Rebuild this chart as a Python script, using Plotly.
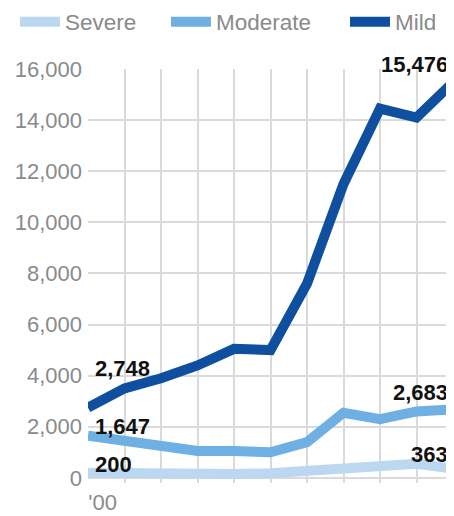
import plotly.graph_objects as go

years = list(range(2000, 2011))
severe = [200, 170, 130, 120, 150, 180, 250, 330, 420, 550, 363]
moderate = [1647, 1450, 1250, 1050, 1050, 1000, 1400, 2550, 2300, 2600, 2683]
mild = [2748, 3500, 3900, 4400, 5050, 5000, 7600, 11500, 14450, 14100, 15476]

series_names = ["Severe", "Moderate", "Mild"]
series_values = [severe, moderate, mild]
colors = ["#bcd8f1", "#6eafe4", "#0f4f9f"]

y_ticks = [0, 2000, 4000, 6000, 8000, 10000, 12000, 14000, 16000]
y_ticktext = ["0", "2,000", "4,000", "6,000", "8,000", "10,000", "12,000", "14,000", "16,000"]
x_ticktext = ["'00", "'10"]

W, H = 446, 508  # page body has an 8px margin in the browser window

fig = go.Figure()
legend_ids = ["legend", "legend2", "legend3"]
for name, vals, c, lg in zip(series_names, series_values, colors, legend_ids):
    fig.add_trace(go.Scatter(x=years, y=vals, name=name, mode="lines",
                             line=dict(color=c, width=10), legend=lg))

def fmt(v):
    return f"{v:,}"

ann_font = dict(family="Liberation Sans, Arial", size=22, color="#111111")
# start labels: severe, moderate, mild
for vals, up in zip(series_values, [8, 9, 39]):
    fig.add_annotation(x=years[0], y=vals[0], text="<b>" + fmt(vals[0]) + "</b>",
                       showarrow=False, xanchor="left", yanchor="middle",
                       xshift=5, yshift=up, font=ann_font)
# end labels: severe, moderate, mild
for vals, up in zip(series_values, [14, 17, 18]):
    fig.add_annotation(x=years[-1], y=vals[-1], text="<b>" + fmt(vals[-1]) + "</b>",
                       showarrow=False, xanchor="right", yanchor="middle",
                       xshift=-3, yshift=up, font=ann_font)

leg_common = dict(orientation="h", xref="container", yref="container",
                  y=1 - 14 / H, xanchor="left", yanchor="middle",
                  font=dict(size=22.5, color="#8a8a8a"), bgcolor="rgba(0,0,0,0)",
                  itemwidth=40)
legend_x = [7, 158, 337]

fig.update_layout(
    width=W, height=H,
    margin=dict(l=80, r=1, t=61, b=26),
    paper_bgcolor="white", plot_bgcolor="white",
    font=dict(family="Liberation Sans, Arial", size=22, color="#8a8a8a"),
    showlegend=True,
    legend=dict(x=legend_x[0] / W, **leg_common),
    legend2=dict(x=legend_x[1] / W, **leg_common),
    legend3=dict(x=legend_x[2] / W, **leg_common),
    xaxis=dict(range=[2000, 2010], tickmode="array",
               tickvals=[2000.4, 2009.65], ticktext=x_ticktext,
               showgrid=False, zeroline=False, showline=False, ticks="",
               ticklabelstandoff=4,
               tickfont=dict(size=22, color="#8a8a8a"),
               minor=dict(tickmode="array", tickvals=years, showgrid=True,
                          gridcolor="#dadada", gridwidth=2, ticks="")),
    yaxis=dict(range=[-200, 16000], tickmode="array", tickvals=y_ticks,
               ticktext=y_ticktext, showgrid=True, gridcolor="#dadada",
               gridwidth=2, zeroline=False, showline=False, ticks="",
               ticklabelstandoff=5,
               tickfont=dict(size=22, color="#8a8a8a")),
)

fig.write_html("out.html")
